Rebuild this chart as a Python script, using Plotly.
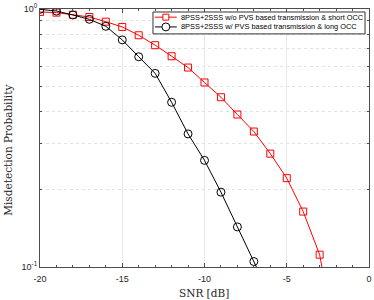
import plotly.graph_objects as go

snr = [-20, -19, -18, -17, -16, -15, -14, -13, -12, -11, -10, -9, -8, -7, -6, -5, -4, -3, -2]
p_short = [0.974, 0.968, 0.95, 0.931, 0.893, 0.852, 0.791, 0.724, 0.656, 0.593,
           0.519, 0.455, 0.390, 0.335, 0.275, 0.221, 0.164, 0.1116, 0.05]
snr_long = [-20, -19, -18, -17, -16, -15, -14, -13, -12, -11, -10, -9, -8, -7, -6]
p_long = [0.997, 0.982, 0.948, 0.912, 0.857, 0.759, 0.653, 0.563, 0.435, 0.328,
          0.259, 0.195, 0.143, 0.105, 0.077]

names = ["8PSS+2SSS w/o PVS based transmission & short OCC",
         "8PSS+2SSS w/ PVS based transmission & long OCC"]
colors = ["#ff0000", "#000000"]
xticks = [-20, -15, -10, -5, 0]
xticktext = ["-20", "-15", "-10", "-5", "0"]
yticks = [0.1, 1]
yticktext = ["10<sup>-1</sup>", "10<sup>0</sup>"]
yminor = [0.2, 0.3, 0.4, 0.5, 0.6, 0.7, 0.8, 0.9]

W, H = 374, 300
ML, MR, MT, MB = 40, 2, 8, 33
PW, PH = W - ML - MR, H - MT - MB


def px(x):
    return (x - ML) / PW


def py(y):
    return 1 - (y - MT) / PH


fig = go.Figure()
fig.add_trace(go.Scatter(x=snr, y=p_short, mode="lines+markers", name=names[0],
                         line=dict(color=colors[0], width=1),
                         marker=dict(symbol="square-open", size=7, color=colors[0],
                                     line=dict(width=1))))
fig.add_trace(go.Scatter(x=snr_long, y=p_long, mode="lines+markers", name=names[1],
                         line=dict(color=colors[1], width=1),
                         marker=dict(symbol="circle-open", size=8, color=colors[1],
                                     line=dict(width=1))))

axis_common = dict(showline=True, linecolor="#4d4d4d", linewidth=1, mirror="ticks",
                   ticks="inside", ticklen=4, tickcolor="#4d4d4d",
                   tickfont=dict(family="Liberation Sans, Arial", size=9, color="#262626"),
                   ticklabeloverflow="allow", zeroline=False)

# manual compact legend (box, line samples, marker samples, labels)
shapes = [dict(type="rect", xref="paper", yref="paper",
               x0=px(154), x1=px(368), y0=py(33), y1=py(11),
               line=dict(color="#333333", width=1), fillcolor="white", layer="above")]
annotations = []
rows = [16.2, 26.0]
for i in range(2):
    yc = rows[i]
    shapes.append(dict(type="line", xref="paper", yref="paper",
                       x0=px(156), x1=px(178), y0=py(yc), y1=py(yc),
                       line=dict(color=colors[i], width=1), layer="above"))
    if i == 0:
        shapes.append(dict(type="rect", xref="paper", yref="paper",
                           x0=px(164), x1=px(170), y0=py(yc + 3), y1=py(yc - 3),
                           line=dict(color=colors[i], width=1), fillcolor="white",
                           layer="above"))
    else:
        shapes.append(dict(type="circle", xref="paper", yref="paper",
                           x0=px(163), x1=px(171), y0=py(yc + 4), y1=py(yc - 4),
                           line=dict(color=colors[i], width=1), fillcolor="white",
                           layer="above"))
    annotations.append(dict(text=names[i], x=px(180.5), y=py(yc), xref="paper", yref="paper",
                            xanchor="left", yanchor="middle", showarrow=False,
                            font=dict(family="Liberation Sans, Arial", size=7.4,
                                      color="#000000")))

annotations.append(dict(text="Misdetection Probability", x=px(8), y=py(150),
                        xref="paper", yref="paper", xanchor="center", yanchor="middle",
                        showarrow=False, textangle=-90,
                        font=dict(family="DejaVu Serif", size=10.5, color="#262626")))
annotations.append(dict(text="SNR [dB]", x=px(205), y=py(293),
                        xref="paper", yref="paper", xanchor="center", yanchor="middle",
                        showarrow=False,
                        font=dict(family="DejaVu Serif", size=10.5, color="#262626")))

fig.update_layout(
    width=W, height=H,
    margin=dict(l=ML, r=MR, t=MT, b=MB),
    plot_bgcolor="white", paper_bgcolor="white",
    showlegend=False,
    xaxis=dict(range=[-20, 0], tickvals=xticks, ticktext=xticktext, showgrid=True,
               gridcolor="#e8e8e8", gridwidth=1, ticklabelstandoff=3,
               minor=dict(dtick=1, ticks="inside", ticklen=2, tickcolor="#4d4d4d",
                          showgrid=False),
               **axis_common),
    yaxis=dict(type="log", range=[-1, 0], tickvals=yticks, ticktext=yticktext,
               showgrid=False,
               minor=dict(tickvals=yminor, ticks="inside", ticklen=2, tickcolor="#4d4d4d",
                          showgrid=True, gridcolor="#e2e2e2", griddash="dot", gridwidth=1),
               **axis_common),
    shapes=shapes,
    annotations=annotations,
)

fig.write_html("out.html", config={"displayModeBar": False},
               post_script="document.body.style.margin='0';")
